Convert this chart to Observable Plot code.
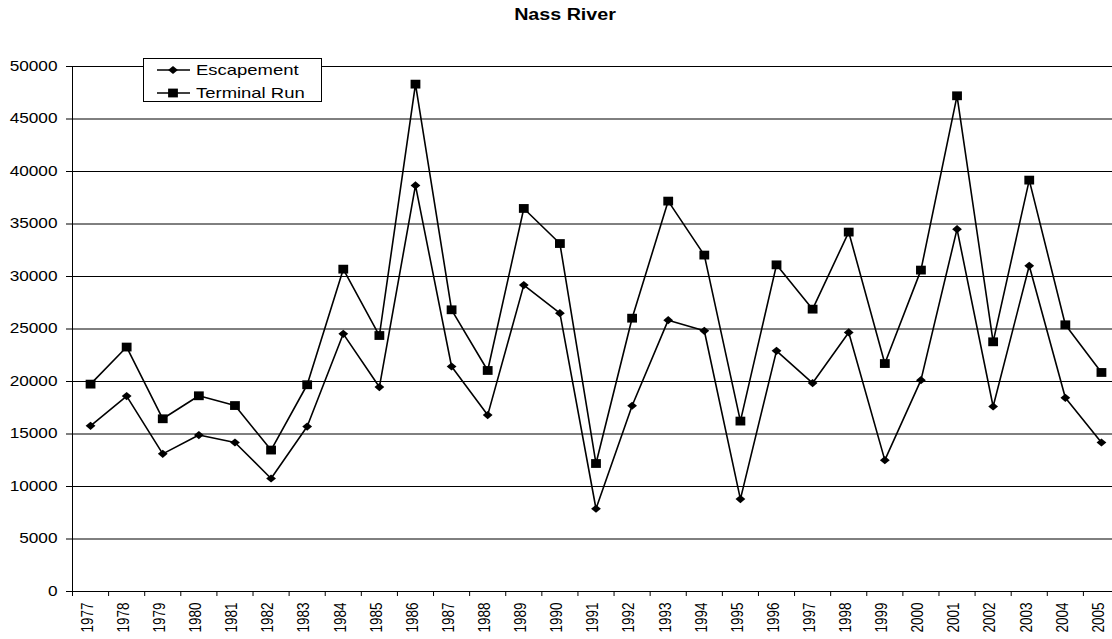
<!DOCTYPE html>
<html><head><meta charset="utf-8">
<script src="https://cdn.jsdelivr.net/npm/d3@7"></script>
<script src="https://cdn.jsdelivr.net/npm/@observablehq/plot@0.6"></script>
<style>
body{margin:0;background:#fff;font-family:"Liberation Sans",Arial,sans-serif;}
#wrap{position:relative;width:1112px;height:639px;overflow:hidden;background:#fff;}
#title{position:relative;height:26px;}
#title span{position:absolute;left:565px;top:0;line-height:29px;font-weight:bold;font-size:16px;white-space:nowrap;transform:translateX(-50%) scaleX(1.23);}
#legend{position:absolute;left:143px;top:58px;width:177px;height:42px;border:1px solid #000;background:#fff;}
.row{position:absolute;left:0;width:177px;height:20px;}
.row svg{position:absolute;left:13px;top:0;}
.row span{position:absolute;left:52px;top:0;font-size:15px;line-height:20px;transform-origin:left center;transform:scaleX(1.23);white-space:nowrap;}
</style>
</head><body>
<div id="wrap">
  <div id="title"><span></span></div>
  <div id="chart"></div>
  <div id="legend"></div>
</div>
<script>
const title = "Nass River";
const series = ["Escapement", "Terminal Run"];
const years = [1977,1978,1979,1980,1981,1982,1983,1984,1985,1986,1987,1988,1989,1990,1991,1992,1993,1994,1995,1996,1997,1998,1999,2000,2001,2002,2003,2004,2005];
const escapement = [15780,18610,13110,14900,14190,10760,15710,24540,19470,38670,21430,16800,29180,26510,7880,17690,25840,24830,8800,22920,19850,24670,12510,20130,34510,17620,31020,18450,14190];
const terminalRun = [19750,23280,16450,18640,17710,13470,19690,30700,24380,48320,26830,21050,36480,33140,12190,26030,37180,32040,16230,31110,26890,34230,21710,30610,47210,23780,39180,25400,20860];
const yTicks = [0,5000,10000,15000,20000,25000,30000,35000,40000,45000,50000];

const table = years.map((year, i) => ({year, esc: escapement[i], tr: terminalRun[i]}));
const boundaries = [years[0] - 0.5, ...years.map(y => y + 0.5)];

const diamond = {draw(ctx) { ctx.moveTo(0, -4.1); ctx.lineTo(4.9, 0); ctx.lineTo(0, 4.1); ctx.lineTo(-4.9, 0); ctx.closePath(); }};
const square = {draw(ctx) { ctx.moveTo(-4.9, -4.4); ctx.lineTo(4.9, -4.4); ctx.lineTo(4.9, 4.4); ctx.lineTo(-4.9, 4.4); ctx.closePath(); }};

document.querySelector("#title span").textContent = title;

const svg = Plot.plot({
  width: 1112,
  height: 613,
  marginLeft: 72,
  marginRight: 0,
  marginTop: 40,
  marginBottom: 48,
  style: {fontFamily: '"Liberation Sans", Arial, sans-serif', color: "#000", background: "#fff"},
  x: {type: "linear", domain: [boundaries[0], boundaries[boundaries.length - 1]], range: [72, 1119]},
  y: {domain: [0, 50000]},
  marks: [
    Plot.ruleY(yTicks, {stroke: "#000", strokeWidth: 1}),
    Plot.ruleX([boundaries[0]], {y1: 0, y2: 50000, stroke: "#000", strokeWidth: 1}),
    Plot.axisY(yTicks, {tickSize: 6, tickPadding: 9, fontSize: 14, tickFormat: d => String(d), label: null}),
    Plot.axisX(boundaries, {tickSize: 5, tickFormat: () => "", label: null}),
    Plot.axisX(years, {tickSize: 0, tickPadding: 11, tickRotate: -90, fontSize: 13.5, dx: -3, tickFormat: d => String(d), label: null}),
    Plot.line(table, {x: "year", y: "tr", stroke: "#000", strokeWidth: 1.6}),
    Plot.line(table, {x: "year", y: "esc", stroke: "#000", strokeWidth: 1.6}),
    Plot.dot(table, {x: "year", y: "tr", symbol: square, fill: "#000", r: 4}),
    Plot.dot(table, {x: "year", y: "esc", symbol: diamond, fill: "#000", r: 4})
  ]
});
document.getElementById("chart").appendChild(svg);

// horizontal stretch of axis text to match the reference's aspect
function stretch(t, s) {
  const x = +t.getAttribute("x") || 0, y = +t.getAttribute("y") || 0;
  const base = t.transform.baseVal.consolidate();
  const m = base ? DOMMatrix.fromMatrix(base.matrix) : new DOMMatrix();
  const ax = m.a * x + m.c * y + m.e, ay = m.b * x + m.d * y + m.f;
  const S = new DOMMatrix().translate(ax, ay).scale(s, 1).translate(-ax, -ay).multiply(m);
  t.setAttribute("transform", `matrix(${S.a},${S.b},${S.c},${S.d},${S.e},${S.f})`);
}
svg.querySelectorAll('g[aria-label$="tick label"] text').forEach(t => stretch(t, 1.23));

// legend
const legend = d3.select("#legend");
const syms = [diamond, square];
series.forEach((name, i) => {
  const row = legend.append("div").attr("class", "row").style("top", (0.5 + i * 23) + "px");
  const s = row.append("svg").attr("width", 36).attr("height", 20);
  s.append("line").attr("x1", 0).attr("x2", 33).attr("y1", 10).attr("y2", 10).attr("stroke", "#000").attr("stroke-width", 1.6);
  const p = d3.path(); syms[i].draw(p);
  s.append("path").attr("d", p.toString()).attr("transform", "translate(16,10)").attr("fill", "#000");
  row.append("span").text(name);
});
</script>
</body></html>
